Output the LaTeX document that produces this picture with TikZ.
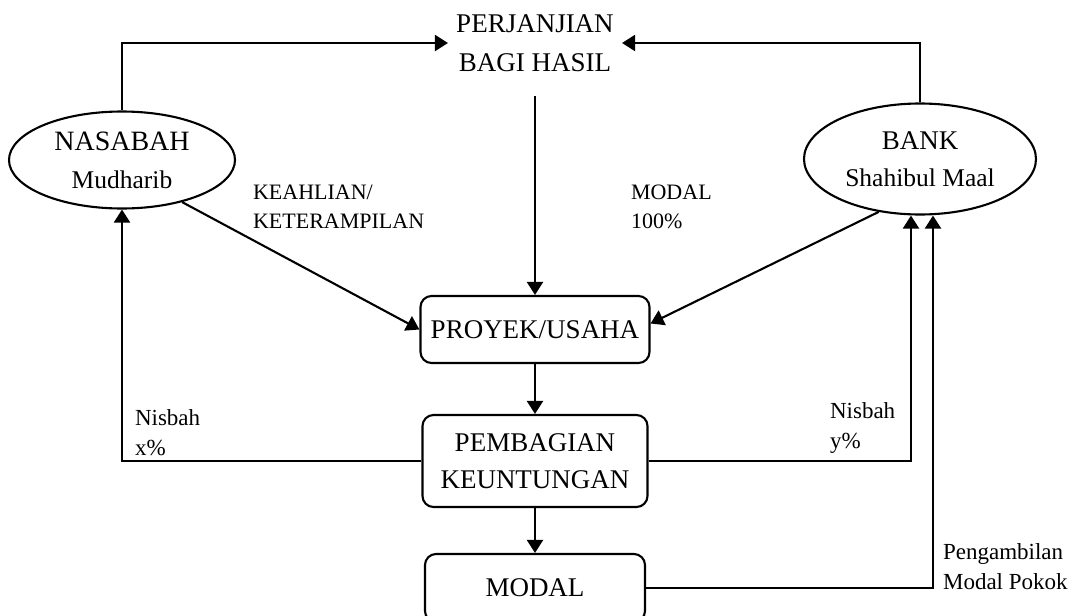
\documentclass[tikz,border=0pt]{standalone}
\usepackage{fontspec}
\setmainfont{Liberation Serif}
\usetikzlibrary{shapes.geometric,arrows.meta,calc}
\begin{document}
\begin{tikzpicture}[x=1pt,y=-1pt, line width=2.1pt,
  arr/.style={-{Triangle[width=16pt,length=13pt]}},
  ebox/.style={ellipse, draw, line width=2.1pt, inner sep=0pt, align=center},
  rbox/.style={draw, rounded corners=11pt, line width=2.1pt, inner sep=0pt, align=center, font=\fontsize{27}{37}\selectfont},
  lblA/.style={anchor=west, align=left, inner sep=0pt, font=\fontsize{22}{29}\selectfont},
  lblB/.style={anchor=west, align=left, inner sep=0pt, font=\fontsize{23}{30}\selectfont}]

\useasboundingbox (0,0) rectangle (1072,616);
\fill[white] (0,0) rectangle (1072,616);

% nodes
\node[inner xsep=0pt, inner ysep=0pt, minimum width=172pt, minimum height=104pt, align=center, font=\fontsize{27}{39}\selectfont] (perj) at (535,43) {PERJANJIAN\\BAGI HASIL};

\node[ebox, minimum width=226pt, minimum height=97pt, font=\fontsize{28}{38}\selectfont] (nas) at (122,160) {NASABAH\\{\fontsize{25.5}{38}\selectfont Mudharib}};

\node[ebox, minimum width=232pt, minimum height=111pt, font=\fontsize{27}{37}\selectfont] (bank) at (920,159) {BANK\\{\fontsize{25.5}{37}\selectfont Shahibul Maal}};

\node[rbox, minimum width=229pt, minimum height=67pt] (proj) at (535,329.5) {PROYEK/USAHA};
\node[rbox, minimum width=225pt, minimum height=92pt] (pemb) at (535,461) {PEMBAGIAN\\KEUNTUNGAN};
\node[rbox, minimum width=220pt, minimum height=68pt] (modal) at (535,588) {MODAL};

% labels
\node[lblA] (keah) at (252,207) {KEAHLIAN/\\KETERAMPILAN};
\node[lblA] (mod100) at (630,207) {MODAL\\100\%};
\node[lblB] (nx) at (134,433) {Nisbah\\x\%};
\node[lblB] (ny) at (829,428) {Nisbah\\y\%};
\node[lblB] (peng) at (942,567) {Pengambilan\\Modal Pokok};

% connectors
\draw[arr] (nas.north) |- (perj.west);
\draw[arr] (bank.north) |- (perj.east);
\draw[arr] (perj.south) -- (proj.north);
\draw[arr] (nas.-35) -- (proj.west);
\draw[arr] (bank.232) -- ($(proj.east)+(0,-6)$);
\draw[arr] (proj.south) -- (pemb.north);
\draw[arr] (pemb.south) -- (modal.north);
\draw[arr] (pemb.west) -| (nas.south);
\coordinate (bA) at ($(bank.south)+(-9,0)$);
\coordinate (bB) at ($(bank.south)+(13,0)$);
\draw[arr] (pemb.east) -| (bA);
\draw[arr] (modal.east) -| (bB);
\end{tikzpicture}
\end{document}
